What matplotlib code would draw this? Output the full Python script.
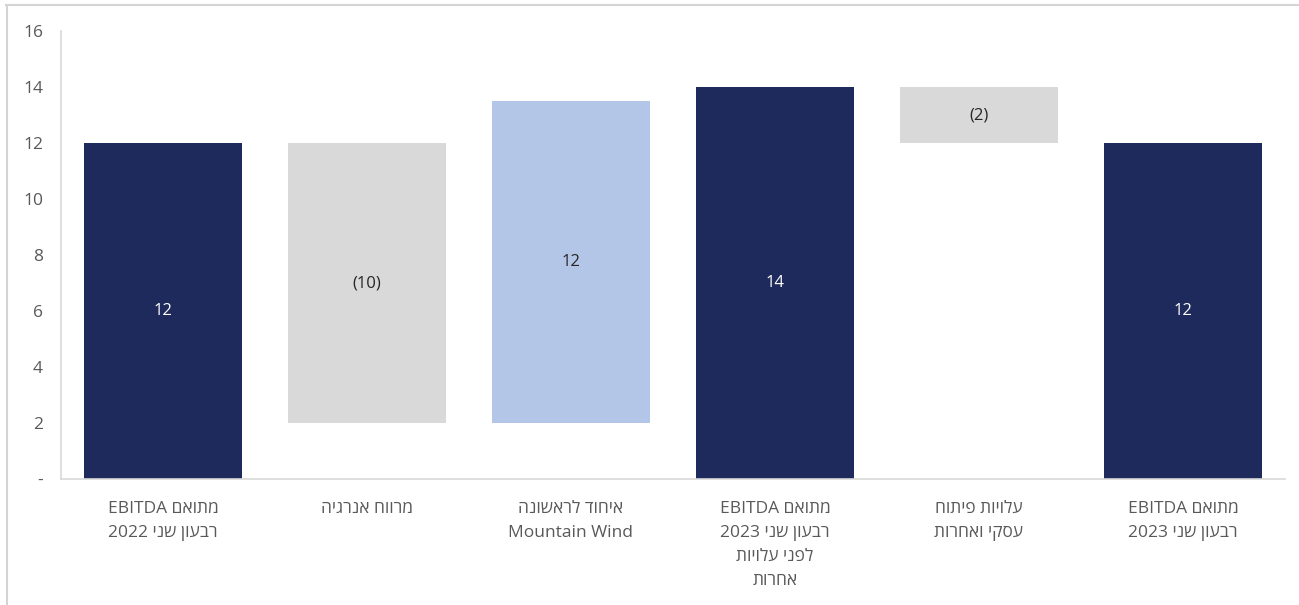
import matplotlib
matplotlib.use('Agg')
import matplotlib.pyplot as plt
from matplotlib.lines import Line2D

# Waterfall of adjusted EBITDA, Q2 2022 -> Q2 2023
categories = [
    'מתואם EBITDA\nרבעון שני 2022',
    'מרווח אנרגיה',
    'איחוד לראשונה\nMountain Wind',
    'מתואם EBITDA\nרבעון שני 2023\nלפני עלויות\nאחרות',
    'עלויות פיתוח\nעסקי ואחרות',
    'מתואם EBITDA\nרבעון שני 2023',
]
bases = [0, 2, 2, 0, 12, 0]
heights = [12, 10, 11.5, 14, 2, 12]
kinds = ['total', 'down', 'up', 'total', 'down', 'total']

y_ticks = [0, 2, 4, 6, 8, 10, 12, 14, 16]

NAVY = '#1f2a5c'
GREY = '#d9d9d9'
LIGHT_BLUE = '#b4c6e7'
TEXT = '#595959'

fill = {'total': NAVY, 'down': GREY, 'up': LIGHT_BLUE}
label_color = {'total': 'white', 'down': '#262626', 'up': '#262626'}


def visual(line):
    # crude bidi: right-to-left paragraph, hebrew words reversed, latin/digit runs kept
    runs = []
    for w in line.split(' '):
        rtl = any('\u0590' <= c <= '\u05ff' for c in w)
        if runs and runs[-1][0] == rtl:
            runs[-1][1].append(w)
        else:
            runs.append((rtl, [w]))
    out = []
    for rtl, ws in reversed(runs):
        if rtl:
            out.append(' '.join(w[::-1] for w in reversed(ws)))
        else:
            out.append(' '.join(ws))
    return ' '.join(out)


plt.rcParams['font.family'] = ['Open Sans', 'Liberation Sans', 'DejaVu Sans']
plt.rcParams['hatch.color'] = '#cfcfcf'
plt.rcParams['hatch.linewidth'] = 0.5

fig = plt.figure(figsize=(12.99, 6.05), dpi=100)
ax = fig.add_axes([61 / 1299, 1 - 479 / 605, 1224 / 1299, 448 / 605])

x = list(range(len(categories)))
for i in x:
    k = kinds[i]
    ax.bar(i, heights[i], bottom=bases[i], width=0.775, color=fill[k],
           edgecolor='none', linewidth=0, hatch='....' if k == 'down' else None,
           zorder=2)
    val = f"{heights[i]:.0f}"
    txt = f"({val})" if k == 'down' else val
    ax.text(i, bases[i] + heights[i] / 2, txt, ha='center', va='center',
            fontsize=12, color=label_color[k], zorder=3)

ax.set_xlim(-0.5, len(categories) - 0.5)
ax.set_ylim(0, 16)
ax.set_yticks(y_ticks)
ax.set_yticklabels(['-' if t == 0 else str(t) for t in y_ticks], fontsize=12.5, color=TEXT)
ax.set_xticks(x)
ax.set_xticklabels(['\n'.join(visual(l) for l in c.split('\n')) for c in categories],
                   fontsize=12.5, color=TEXT, linespacing=1.65)
ax.tick_params(axis='both', length=0)
ax.tick_params(axis='y', pad=13)
ax.tick_params(axis='x', pad=16)

for s in ['top', 'right']:
    ax.spines[s].set_visible(False)
ax.spines['left'].set_color('#d9d9d9')
ax.spines['bottom'].set_color('#d9d9d9')
ax.spines['left'].set_linewidth(1.2)
ax.spines['bottom'].set_linewidth(1.2)

# outer frame: top and left edges only
fig.add_artist(Line2D([6 / 1299, 1], [1 - 4.5 / 605, 1 - 4.5 / 605], color='#d4d4d4', lw=1.5,
                      transform=fig.transFigure))
fig.add_artist(Line2D([6.5 / 1299, 6.5 / 1299], [0, 1 - 4.5 / 605], color='#d4d4d4', lw=1.5,
                      transform=fig.transFigure))

fig.savefig('out.png', dpi=100)
